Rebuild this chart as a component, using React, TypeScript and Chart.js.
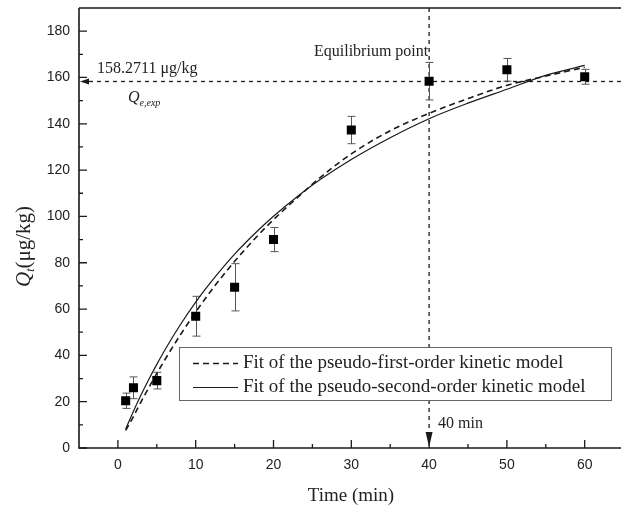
import { useEffect, useRef } from "react";
import { Chart, registerables } from "chart.js";

Chart.register(...registerables);

// Measured adsorption data
const timeMin = [1, 2, 5, 10, 15, 20, 30, 40, 50, 60];
const qtMeasured = [20.4, 26.0, 29.1, 56.9, 69.4, 90.0, 137.3, 158.4, 163.3, 160.3];
const qtError = [3.3, 4.7, 3.6, 8.6, 10.2, 5.2, 5.9, 8.1, 4.9, 3.2];

// Fitted curves
const fitTime = [1, 2, 3, 4, 5, 6, 8, 10, 12, 15, 18, 20, 23, 26, 30, 35, 40, 45, 50, 55, 60];
const fitFirstOrder = [7.6, 13.6, 20.1, 26.2, 32.2, 37.9, 48.7, 58.7, 68.0, 80.6, 91.8, 98.6, 107.9, 116.8, 127.0, 137.0, 144.5, 150.9, 156.6, 160.6, 164.4];
const fitSecondOrder = [8.2, 15.9, 23.1, 29.8, 36.1, 42.1, 53.1, 63.0, 71.8, 83.7, 93.9, 100.1, 108.4, 115.9, 124.6, 134.0, 142.2, 148.9, 154.9, 160.9, 165.2];

// Axis ticks
const xMajorTicks = [0, 10, 20, 30, 40, 50, 60];
const xMinorTicks = [5, 15, 25, 35, 45, 55];
const yMajorTicks = [0, 20, 40, 60, 80, 100, 120, 140, 160, 180];
const yMinorTicks = [10, 30, 50, 70, 90, 110, 130, 150, 170];

// Annotations
const qeExp = 158.2711;
const equilibriumTime = 40;
const legendLabels = [
  "Fit of the pseudo-first-order kinetic model",
  "Fit of the pseudo-second-order kinetic model",
];

const SERIF = '"Liberation Serif", "Times New Roman", serif';
const SANS = '"Liberation Sans", Arial, sans-serif';
const INK = "#1a1a1a";

const zeroPad = (s: any) => {
  s.paddingTop = 0;
  s.paddingBottom = 0;
  s.paddingLeft = 0;
  s.paddingRight = 0;
};

const decor = {
  id: "decor",
  beforeDatasetsDraw(chart: any) {
    const { ctx, chartArea: a, scales } = chart;
    const x = scales.x;
    const y = scales.y;
    ctx.save();
    ctx.strokeStyle = INK;
    ctx.fillStyle = INK;
    ctx.lineWidth = 1.3;
    ctx.setLineDash([4, 4]);
    const yq = y.getPixelForValue(qeExp);
    ctx.beginPath();
    ctx.moveTo(a.left + 10, yq);
    ctx.lineTo(a.right, yq);
    ctx.stroke();
    const xe = x.getPixelForValue(equilibriumTime);
    ctx.beginPath();
    ctx.moveTo(xe, a.top);
    ctx.lineTo(xe, a.bottom - 15);
    ctx.stroke();
    ctx.setLineDash([]);
    // arrowheads
    ctx.beginPath();
    ctx.moveTo(a.left + 1, yq);
    ctx.lineTo(a.left + 10, yq - 3);
    ctx.lineTo(a.left + 10, yq + 3);
    ctx.closePath();
    ctx.fill();
    ctx.beginPath();
    ctx.moveTo(xe, a.bottom - 1);
    ctx.lineTo(xe - 3.5, a.bottom - 16);
    ctx.lineTo(xe + 3.5, a.bottom - 16);
    ctx.closePath();
    ctx.fill();

    // error bars
    ctx.strokeStyle = "#555";
    ctx.lineWidth = 1;
    timeMin.forEach((t, i) => {
      const px = Math.round(x.getPixelForValue(t)) + 0.5;
      const top = y.getPixelForValue(qtMeasured[i] + qtError[i]);
      const bot = y.getPixelForValue(qtMeasured[i] - qtError[i]);
      ctx.beginPath();
      ctx.moveTo(px, top);
      ctx.lineTo(px, bot);
      ctx.moveTo(px - 4, top);
      ctx.lineTo(px + 4, top);
      ctx.moveTo(px - 4, bot);
      ctx.lineTo(px + 4, bot);
      ctx.stroke();
    });
    ctx.restore();
  },
  afterDatasetsDraw(chart: any) {
    const { ctx, chartArea: a, scales } = chart;
    const x = scales.x;
    const y = scales.y;
    ctx.save();
    ctx.strokeStyle = INK;
    ctx.fillStyle = INK;
    // axes frame
    ctx.lineWidth = 1.6;
    ctx.beginPath();
    ctx.moveTo(a.left, a.top);
    ctx.lineTo(a.right, a.top);
    ctx.moveTo(a.left, a.top);
    ctx.lineTo(a.left, a.bottom);
    ctx.lineTo(a.right, a.bottom);
    ctx.stroke();
    // ticks (inward)
    ctx.lineWidth = 1.3;
    ctx.beginPath();
    xMajorTicks.forEach((v) => {
      const p = x.getPixelForValue(v);
      ctx.moveTo(p, a.bottom);
      ctx.lineTo(p, a.bottom - 8);
    });
    xMinorTicks.forEach((v) => {
      const p = x.getPixelForValue(v);
      ctx.moveTo(p, a.bottom);
      ctx.lineTo(p, a.bottom - 4);
    });
    yMajorTicks.forEach((v) => {
      const p = y.getPixelForValue(v);
      ctx.moveTo(a.left, p);
      ctx.lineTo(a.left + 8, p);
    });
    yMinorTicks.forEach((v) => {
      const p = y.getPixelForValue(v);
      ctx.moveTo(a.left, p);
      ctx.lineTo(a.left + 4, p);
    });
    ctx.stroke();

    // annotation texts
    ctx.textAlign = "left";
    ctx.textBaseline = "alphabetic";
    ctx.fillStyle = "#222";
    ctx.font = `16px ${SERIF}`;
    ctx.fillText("158.2711 \u03bcg/kg", 97, 73);
    ctx.fillText("Equilibrium point", 314, 56);
    ctx.fillText("40 min", 438, 428);
    ctx.font = `italic 16px ${SERIF}`;
    ctx.fillText("Q", 128, 102);
    const qw = ctx.measureText("Q").width;
    ctx.font = `italic 10px ${SERIF}`;
    ctx.fillText("e,exp", 128 + qw, 106);

    // legend
    const lx = 179.5, ly = 347.5, lw = 432, lh = 53;
    ctx.fillStyle = "#fff";
    ctx.fillRect(lx, ly, lw, lh);
    ctx.strokeStyle = "#666";
    ctx.lineWidth = 1;
    ctx.strokeRect(lx, ly, lw, lh);
    ctx.strokeStyle = INK;
    ctx.lineWidth = 1.5;
    ctx.setLineDash([6, 4]);
    ctx.beginPath();
    ctx.moveTo(193, 363.5);
    ctx.lineTo(238, 363.5);
    ctx.stroke();
    ctx.setLineDash([]);
    ctx.lineWidth = 1.2;
    ctx.beginPath();
    ctx.moveTo(193, 387.5);
    ctx.lineTo(238, 387.5);
    ctx.stroke();
    ctx.fillStyle = "#222";
    ctx.font = `19px ${SERIF}`;
    ctx.textBaseline = "middle";
    ctx.fillText(legendLabels[0], 243, 363);
    ctx.fillText(legendLabels[1], 243, 387);

    // axis titles
    ctx.textBaseline = "alphabetic";
    ctx.textAlign = "center";
    ctx.font = `19px ${SERIF}`;
    ctx.fillText("Time (min)", 351, 501);

    ctx.save();
    ctx.translate(30, 287);
    ctx.rotate(-Math.PI / 2);
    ctx.textAlign = "left";
    ctx.font = `italic 21px ${SERIF}`;
    ctx.fillText("Q", 0, 0);
    let w = ctx.measureText("Q").width;
    ctx.font = `italic 12px ${SERIF}`;
    ctx.fillText("t", w, 4);
    w += ctx.measureText("t").width;
    ctx.font = `21px ${SERIF}`;
    ctx.fillText("(\u03bcg/kg)", w, 0);
    ctx.restore();

    ctx.restore();
  },
};

export default function App() {
  const ref = useRef<HTMLCanvasElement | null>(null);
  useEffect(() => {
    if (!ref.current) return;
    const chart = new Chart(ref.current, {
      type: "scatter",
      data: {
        datasets: [
          {
            label: legendLabels[0],
            data: fitTime.map((t, i) => ({ x: t, y: fitFirstOrder[i] })),
            showLine: true,
            borderColor: INK,
            borderWidth: 1.6,
            borderDash: [6, 4],
            pointRadius: 0,
            fill: false,
            cubicInterpolationMode: "monotone",
            order: 2,
          } as any,
          {
            label: legendLabels[1],
            data: fitTime.map((t, i) => ({ x: t, y: fitSecondOrder[i] })),
            showLine: true,
            borderColor: INK,
            borderWidth: 1.2,
            pointRadius: 0,
            fill: false,
            cubicInterpolationMode: "monotone",
            order: 1,
          } as any,
          {
            label: "Measured",
            data: timeMin.map((t, i) => ({ x: t, y: qtMeasured[i] })),
            pointStyle: "rect",
            pointRadius: 6.4,
            backgroundColor: "#000",
            borderColor: "#000",
            borderWidth: 0,
            showLine: false,
            order: 0,
          } as any,
        ],
      },
      options: {
        animation: false,
        responsive: false,
        devicePixelRatio: 1,
        layout: { padding: { top: 8, left: 0, right: 0, bottom: 0 } },
        plugins: { legend: { display: false }, tooltip: { enabled: false } },
        scales: {
          x: {
            type: "linear",
            min: -5,
            max: 65,
            afterFit(s: any) {
              s.height = 59;
              zeroPad(s);
            },
            grid: { display: false, drawTicks: false },
            border: { display: false },
            ticks: {
              stepSize: 5,
              padding: 9,
              autoSkip: false,
              maxRotation: 0,
              color: "#222",
              font: { family: SANS, size: 14 },
              callback: (v: any) => (Number(v) % 10 === 0 && Number(v) >= 0 && Number(v) <= 60 ? String(v) : ""),
            },
          },
          y: {
            type: "linear",
            min: 0,
            max: 190,
            afterFit(s: any) {
              s.width = 79;
              zeroPad(s);
            },
            grid: { display: false, drawTicks: false },
            border: { display: false },
            ticks: {
              stepSize: 10,
              padding: 9,
              autoSkip: false,
              color: "#222",
              font: { family: SANS, size: 14 },
              callback: (v: any) => (Number(v) % 20 === 0 && Number(v) <= 180 ? String(v) : ""),
            },
          },
        },
      },
      plugins: [decor],
    });
    return () => chart.destroy();
  }, []);
  return (
    <div
      style={{
        position: "fixed",
        left: 0,
        top: 0,
        width: 621,
        height: 507,
        overflow: "hidden",
        background: "#fff",
      }}
    >
      <canvas ref={ref} width={630} height={507} style={{ width: 630, height: 507, display: "block" }} />
    </div>
  );
}
